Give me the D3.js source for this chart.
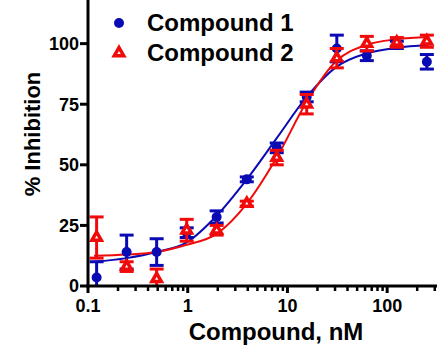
<!DOCTYPE html>
<html>
<head>
<meta charset="utf-8">
<script src="https://cdn.jsdelivr.net/npm/d3@7"></script>
<style>
  body { margin: 0; background: #fff; }
  svg { display: block; font-family: "Liberation Sans", Arial, sans-serif; font-weight: bold; }
</style>
</head>
<body>
<div id="chart"></div>
<script>
// concentrations (nM), 2-fold dilution series
const conc = [0.122, 0.244, 0.488, 0.977, 1.95, 3.91, 7.81, 15.6, 31.25, 62.5, 125, 250];

const series1Name = "Compound 1";
const series1Mean = [3.5, 14, 14, 22, 28.5, 44, 57, 78, 98, 95, 99.5, 92.5];
const series1Err = [6.5, 7, 5.5, 2, 2.5, 1, 2, 2, 5.5, 2, 1.5, 3];

const series2Name = "Compound 2";
const series2Mean = [20, 8, 3, 23, 23, 34, 53, 75, 94, 100, 100.5, 101];
const series2Err = [8.5, 2, 4, 4.5, 2, 1, 3, 4, 4, 3, 2, 2.5];

// fitted curves
const curveX = [0.115, 0.244, 0.488, 0.977, 1.95, 3.91, 7.81, 15.6, 31.25, 62.5, 125, 260];
const curve1 = [10, 11.5, 14, 18, 29, 44, 61, 78, 90.5, 96, 98.3, 99.3];
const curve2 = [12.5, 13, 14, 17, 21.5, 34, 53, 76, 93, 99.5, 101.8, 102.7];

const xTicks = [0.1, 1, 10, 100];
const yTicks = [0, 25, 50, 75, 100];

const width = 437;
const height = 363;
const blue = "#0a0ab4";
const red = "#f00a0a";

const x = d3.scaleLog().domain([0.1, 316]).range([88, 437]);
const y = d3.scaleLinear().domain([0, 118]).range([286, 0]);

const svg = d3.select("#chart").append("svg")
  .attr("width", width)
  .attr("height", height);

// curves
const line = d3.line()
  .x((d) => x(d[0]))
  .y((d) => y(d[1]))
  .curve(d3.curveMonotoneX);

svg.append("path")
  .datum(curveX.map((c, i) => [c, curve1[i]]))
  .attr("d", line)
  .attr("fill", "none")
  .attr("stroke", blue)
  .attr("stroke-width", 2);

svg.append("path")
  .datum(curveX.map((c, i) => [c, curve2[i]]))
  .attr("d", line)
  .attr("fill", "none")
  .attr("stroke", red)
  .attr("stroke-width", 2);

const tri = d3.symbol().type(d3.symbolTriangle).size(38);

function drawSeries(mean, err, color, marker) {
  const g = svg.append("g");
  const pts = conc.map((c, i) => ({ c: c, m: mean[i], e: err[i] }));
  const eb = g.selectAll(".eb").data(pts).join("g")
    .attr("stroke", color)
    .attr("stroke-width", 3);
  eb.append("line")
    .attr("x1", (d) => x(d.c)).attr("x2", (d) => x(d.c))
    .attr("y1", (d) => y(Math.max(0, d.m - d.e)))
    .attr("y2", (d) => y(d.m + d.e));
  eb.append("line")
    .attr("x1", (d) => x(d.c) - 7).attr("x2", (d) => x(d.c) + 7)
    .attr("y1", (d) => y(d.m + d.e)).attr("y2", (d) => y(d.m + d.e));
  eb.filter((d) => d.m - d.e > 0).append("line")
    .attr("x1", (d) => x(d.c) - 7).attr("x2", (d) => x(d.c) + 7)
    .attr("y1", (d) => y(d.m - d.e)).attr("y2", (d) => y(d.m - d.e));

  if (marker === "circle") {
    g.selectAll("circle").data(pts).join("circle")
      .attr("cx", (d) => x(d.c))
      .attr("cy", (d) => y(d.m))
      .attr("r", 5)
      .attr("fill", color);
  } else {
    g.selectAll(".tri").data(pts).join("path")
      .attr("transform", (d) => `translate(${x(d.c)},${y(d.m)})`)
      .attr("d", tri)
      .attr("fill", "#fff")
      .attr("stroke", color)
      .attr("stroke-width", 3.5);
  }
}

drawSeries(series1Mean, series1Err, blue, "circle");
drawSeries(series2Mean, series2Err, red, "triangle");

// axes
const minorTicks = [];
[0.1, 1, 10, 100].forEach((dec) => {
  for (let k = 2; k <= 9; k++) {
    if (dec * k <= 316) minorTicks.push(dec * k);
  }
});

const xAxis = svg.append("g")
  .attr("transform", `translate(0,${y(0)})`);
xAxis.append("line")
  .attr("x1", 86.5).attr("x2", 437)
  .attr("stroke", "#000").attr("stroke-width", 3);
xAxis.selectAll(".minor").data(minorTicks).join("line")
  .attr("x1", (d) => x(d)).attr("x2", (d) => x(d))
  .attr("y1", 0).attr("y2", 5)
  .attr("stroke", "#000").attr("stroke-width", 2.5);
xAxis.selectAll(".major").data(xTicks).join("line")
  .attr("x1", (d) => x(d)).attr("x2", (d) => x(d))
  .attr("y1", 0).attr("y2", 7)
  .attr("stroke", "#000").attr("stroke-width", 3);
xAxis.selectAll("text").data(xTicks).join("text")
  .attr("x", (d) => x(d))
  .attr("y", 26)
  .attr("text-anchor", "middle")
  .attr("font-size", 18)
  .text((d) => d3.format("~g")(d));

const yAxis = svg.append("g");
yAxis.append("line")
  .attr("x1", 88).attr("x2", 88)
  .attr("y1", 0).attr("y2", y(0) + 1.5)
  .attr("stroke", "#000").attr("stroke-width", 3);
yAxis.selectAll(".tick").data(yTicks).join("line")
  .attr("x1", 80).attr("x2", 88)
  .attr("y1", (d) => y(d)).attr("y2", (d) => y(d))
  .attr("stroke", "#000").attr("stroke-width", 3);
yAxis.selectAll("text").data(yTicks).join("text")
  .attr("x", 79)
  .attr("y", (d) => y(d))
  .attr("dy", "0.36em")
  .attr("text-anchor", "end")
  .attr("font-size", 18)
  .text((d) => d);

// titles
svg.append("text")
  .attr("x", 276)
  .attr("y", 340)
  .attr("text-anchor", "middle")
  .attr("font-size", 24)
  .text("Compound, nM");

svg.append("text")
  .attr("transform", "translate(40,134) rotate(-90)")
  .attr("text-anchor", "middle")
  .attr("font-size", 22)
  .text("% Inhibition");

// legend
const legend = svg.append("g");
legend.append("circle")
  .attr("cx", 119).attr("cy", 23).attr("r", 5)
  .attr("fill", blue);
legend.append("path")
  .attr("transform", "translate(119,53)")
  .attr("d", tri)
  .attr("fill", "#fff")
  .attr("stroke", red)
  .attr("stroke-width", 3.5);
legend.selectAll("text").data([series1Name, series2Name]).join("text")
  .attr("x", 147)
  .attr("y", (d, i) => 31 + i * 30)
  .attr("font-size", 24)
  .text((d) => d);
</script>
</body>
</html>
